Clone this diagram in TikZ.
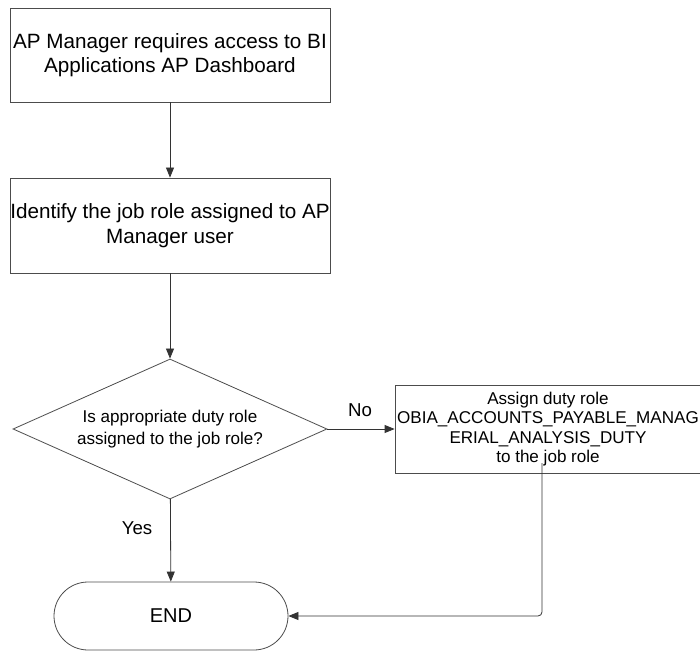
\documentclass[tikz,border=0pt]{standalone}
\usepackage{fontspec}
\setmainfont{Liberation Sans}
\usepackage{tikz}
\usetikzlibrary{shapes.geometric, arrows.meta}

\tikzset{
  flowline/.style={draw=black!80, line width=0.6pt},
  flowarrow/.style={flowline, -{Triangle[length=7.5pt,width=6pt]}},
  stepbox/.style={draw=black!70, line width=0.6pt, rectangle, inner sep=0pt, align=center},
}

\begin{document}
\begin{tikzpicture}[x=0.75pt,y=0.75pt,yscale=-1,xscale=1]
\useasboundingbox (0,0) rectangle (700,652);

%Shape: Rectangle [id:request] 
\node (request) at (170,55) [stepbox, minimum width=240pt, minimum height=70.5pt, font=\fontsize{15.5}{18.5}\selectfont] {AP Manager requires access to BI\\Applications AP Dashboard};
%Shape: Rectangle [id:identify] 
\node (identify) at (170,225.5) [stepbox, minimum width=240pt, minimum height=71.25pt, font=\fontsize{15.5}{18.5}\selectfont] {Identify the job role assigned to AP\\Manager user};
%Shape: Diamond [id:check] 
\node (check) at (170,429) [stepbox, diamond, aspect=2.2, minimum width=235.5pt, minimum height=105pt, font=\fontsize{12.8}{16}\selectfont] {Is appropriate duty role\\assigned to the job role?};
%Shape: Rectangle [id:assign] 
\node (assign) at (548,429) [stepbox, minimum width=229.5pt, minimum height=66pt, font=\fontsize{12.8}{14.6}\selectfont] {Assign duty role\\OBIA\_ACCOUNTS\_PAYABLE\_MANAG\\ERIAL\_ANALYSIS\_DUTY\\to the job role};
%Shape: Terminal [id:finish] 
\node (finish) at (171,616) [stepbox, rounded corners=25.5pt, minimum width=175.5pt, minimum height=51pt, font=\fontsize{15}{18}\selectfont] {END};

\coordinate (assignfoot) at (542,463);

%Straight Lines [id:flow] 
\draw [flowarrow] (request) -- (identify);
\draw [flowarrow] (identify) -- (check);
\draw [flowarrow] (check) -- (assign);
\draw [flowarrow] (check) -- (finish);
\draw [flowarrow, rounded corners=3pt] (assignfoot) |- (finish.east);

% Text Node
\node (no) at (360,410) [font=\fontsize{14}{16}\selectfont] {No};
% Text Node
\node (yes) at (137,528) [font=\fontsize{14}{16}\selectfont] {Yes};

\end{tikzpicture}
\end{document}
